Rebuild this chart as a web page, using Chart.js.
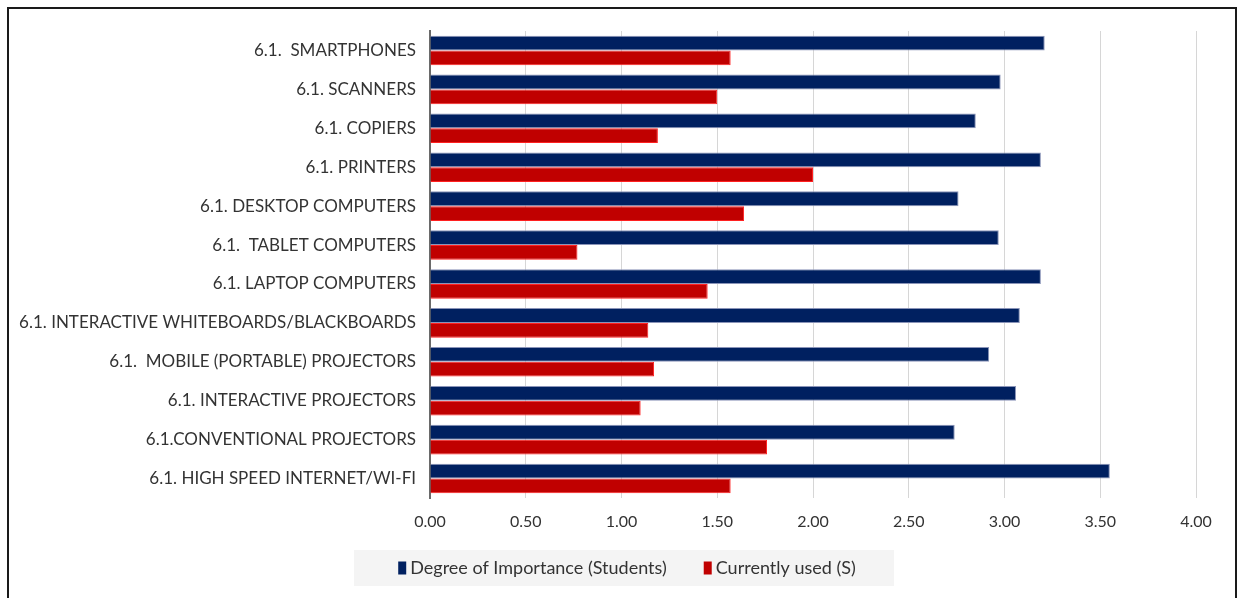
<!DOCTYPE html>
<html>
<head>
<meta charset="utf-8">
<script src="https://cdn.jsdelivr.net/npm/chart.js@4"></script>
<style>
  html, body { margin: 0; padding: 0; background: #fff; }
  #wrap { width: 1242px; height: 598px; position: relative; }
</style>
</head>
<body>
<div id="wrap"><canvas id="chart"></canvas></div>
<script>
const categories = [
    '6.1.  SMARTPHONES',
    '6.1. SCANNERS',
    '6.1. COPIERS',
    '6.1. PRINTERS',
    '6.1. DESKTOP COMPUTERS',
    '6.1.  TABLET COMPUTERS',
    '6.1. LAPTOP COMPUTERS',
    '6.1. INTERACTIVE WHITEBOARDS/BLACKBOARDS',
    '6.1.  MOBILE (PORTABLE) PROJECTORS',
    '6.1. INTERACTIVE PROJECTORS',
    '6.1.CONVENTIONAL PROJECTORS',
    '6.1. HIGH SPEED INTERNET/WI-FI'
];
const importance = [3.21, 2.98, 2.85, 3.19, 2.76, 2.97, 3.19, 3.08, 2.92, 3.06, 2.74, 3.55];
const currentlyUsed = [1.57, 1.50, 1.19, 2.00, 1.64, 0.77, 1.45, 1.14, 1.17, 1.10, 1.76, 1.57];
const xTicks = [0, 0.5, 1, 1.5, 2, 2.5, 3, 3.5, 4];

const FONT = 'Lato, "Open Sans", sans-serif';
const TEXT = '#333333';

// cadre noir + légende sur fond gris (à partir des datasets)
const decor = {
    id: 'decor',
    beforeDraw(chart) {
        const c = chart.ctx;
        c.save();
        c.fillStyle = '#f4f4f4';
        c.fillRect(354, 550, 540, 36);
        c.restore();
    },
    afterDraw(chart) {
        const c = chart.ctx;
        const sets = chart.data.datasets;
        c.save();
        c.font = '18px ' + FONT;
        c.textBaseline = 'middle';
        const gap = 37, boxW = 8, boxH = 13, txtOff = 4;
        const widths = sets.map(ds => boxW + txtOff + c.measureText(ds.label).width);
        const total = widths.reduce((a, b) => a + b, 0) + gap * (sets.length - 1);
        let x = 627 - total / 2;
        const y = 568;
        sets.forEach((ds, i) => {
            c.fillStyle = ds.backgroundColor;
            c.fillRect(x, y - boxH / 2, boxW, boxH);
            c.fillStyle = TEXT;
            c.fillText(ds.label, x + boxW + txtOff, y);
            x += widths[i] + gap;
        });
        c.strokeStyle = '#1a1a1a';
        c.lineWidth = 2;
        c.strokeRect(8, 8, 1228, 600);
        c.restore();
    }
};

const ctx = document.getElementById('chart').getContext('2d');
new Chart(ctx, {
    type: 'bar',
    data: {
        labels: categories,
        datasets: [{
            label: 'Degree of Importance (Students)',
            data: importance,
            backgroundColor: '#002060',
            borderColor: '#8a94b8',
            borderWidth: 1,
            categoryPercentage: 0.76,
            barPercentage: 1.0
        }, {
            label: 'Currently used (S)',
            data: currentlyUsed,
            backgroundColor: '#c00000',
            borderColor: '#ff2020',
            borderWidth: 1,
            categoryPercentage: 0.76,
            barPercentage: 1.0
        }]
    },
    options: {
        indexAxis: 'y',
        responsive: true,
        maintainAspectRatio: false,
        animation: false,
        layout: { padding: { top: 31, left: 0, right: 46, bottom: 60 } },
        scales: {
            x: {
                min: 0,
                max: 4,
                afterBuildTicks(scale) {
                    scale.ticks = xTicks.map(v => ({ value: v }));
                },
                afterFit(scale) { scale.height = 40; },
                grid: { color: '#d6d6d6', lineWidth: 1, drawTicks: false },
                border: { display: false },
                ticks: {
                    padding: 14,
                    color: TEXT,
                    font: { family: FONT, size: 16 },
                    callback: v => Number(v).toFixed(2)
                }
            },
            y: {
                afterFit(scale) { scale.width = 430; },
                grid: { display: false, drawTicks: false },
                border: { display: true, color: '#6a6a6a', width: 2 },
                ticks: {
                    padding: 14,
                    color: TEXT,
                    font: { family: FONT, size: 17 }
                }
            }
        },
        plugins: {
            legend: { display: false },
            tooltip: { enabled: false }
        }
    },
    plugins: [decor]
});
</script>
</body>
</html>
